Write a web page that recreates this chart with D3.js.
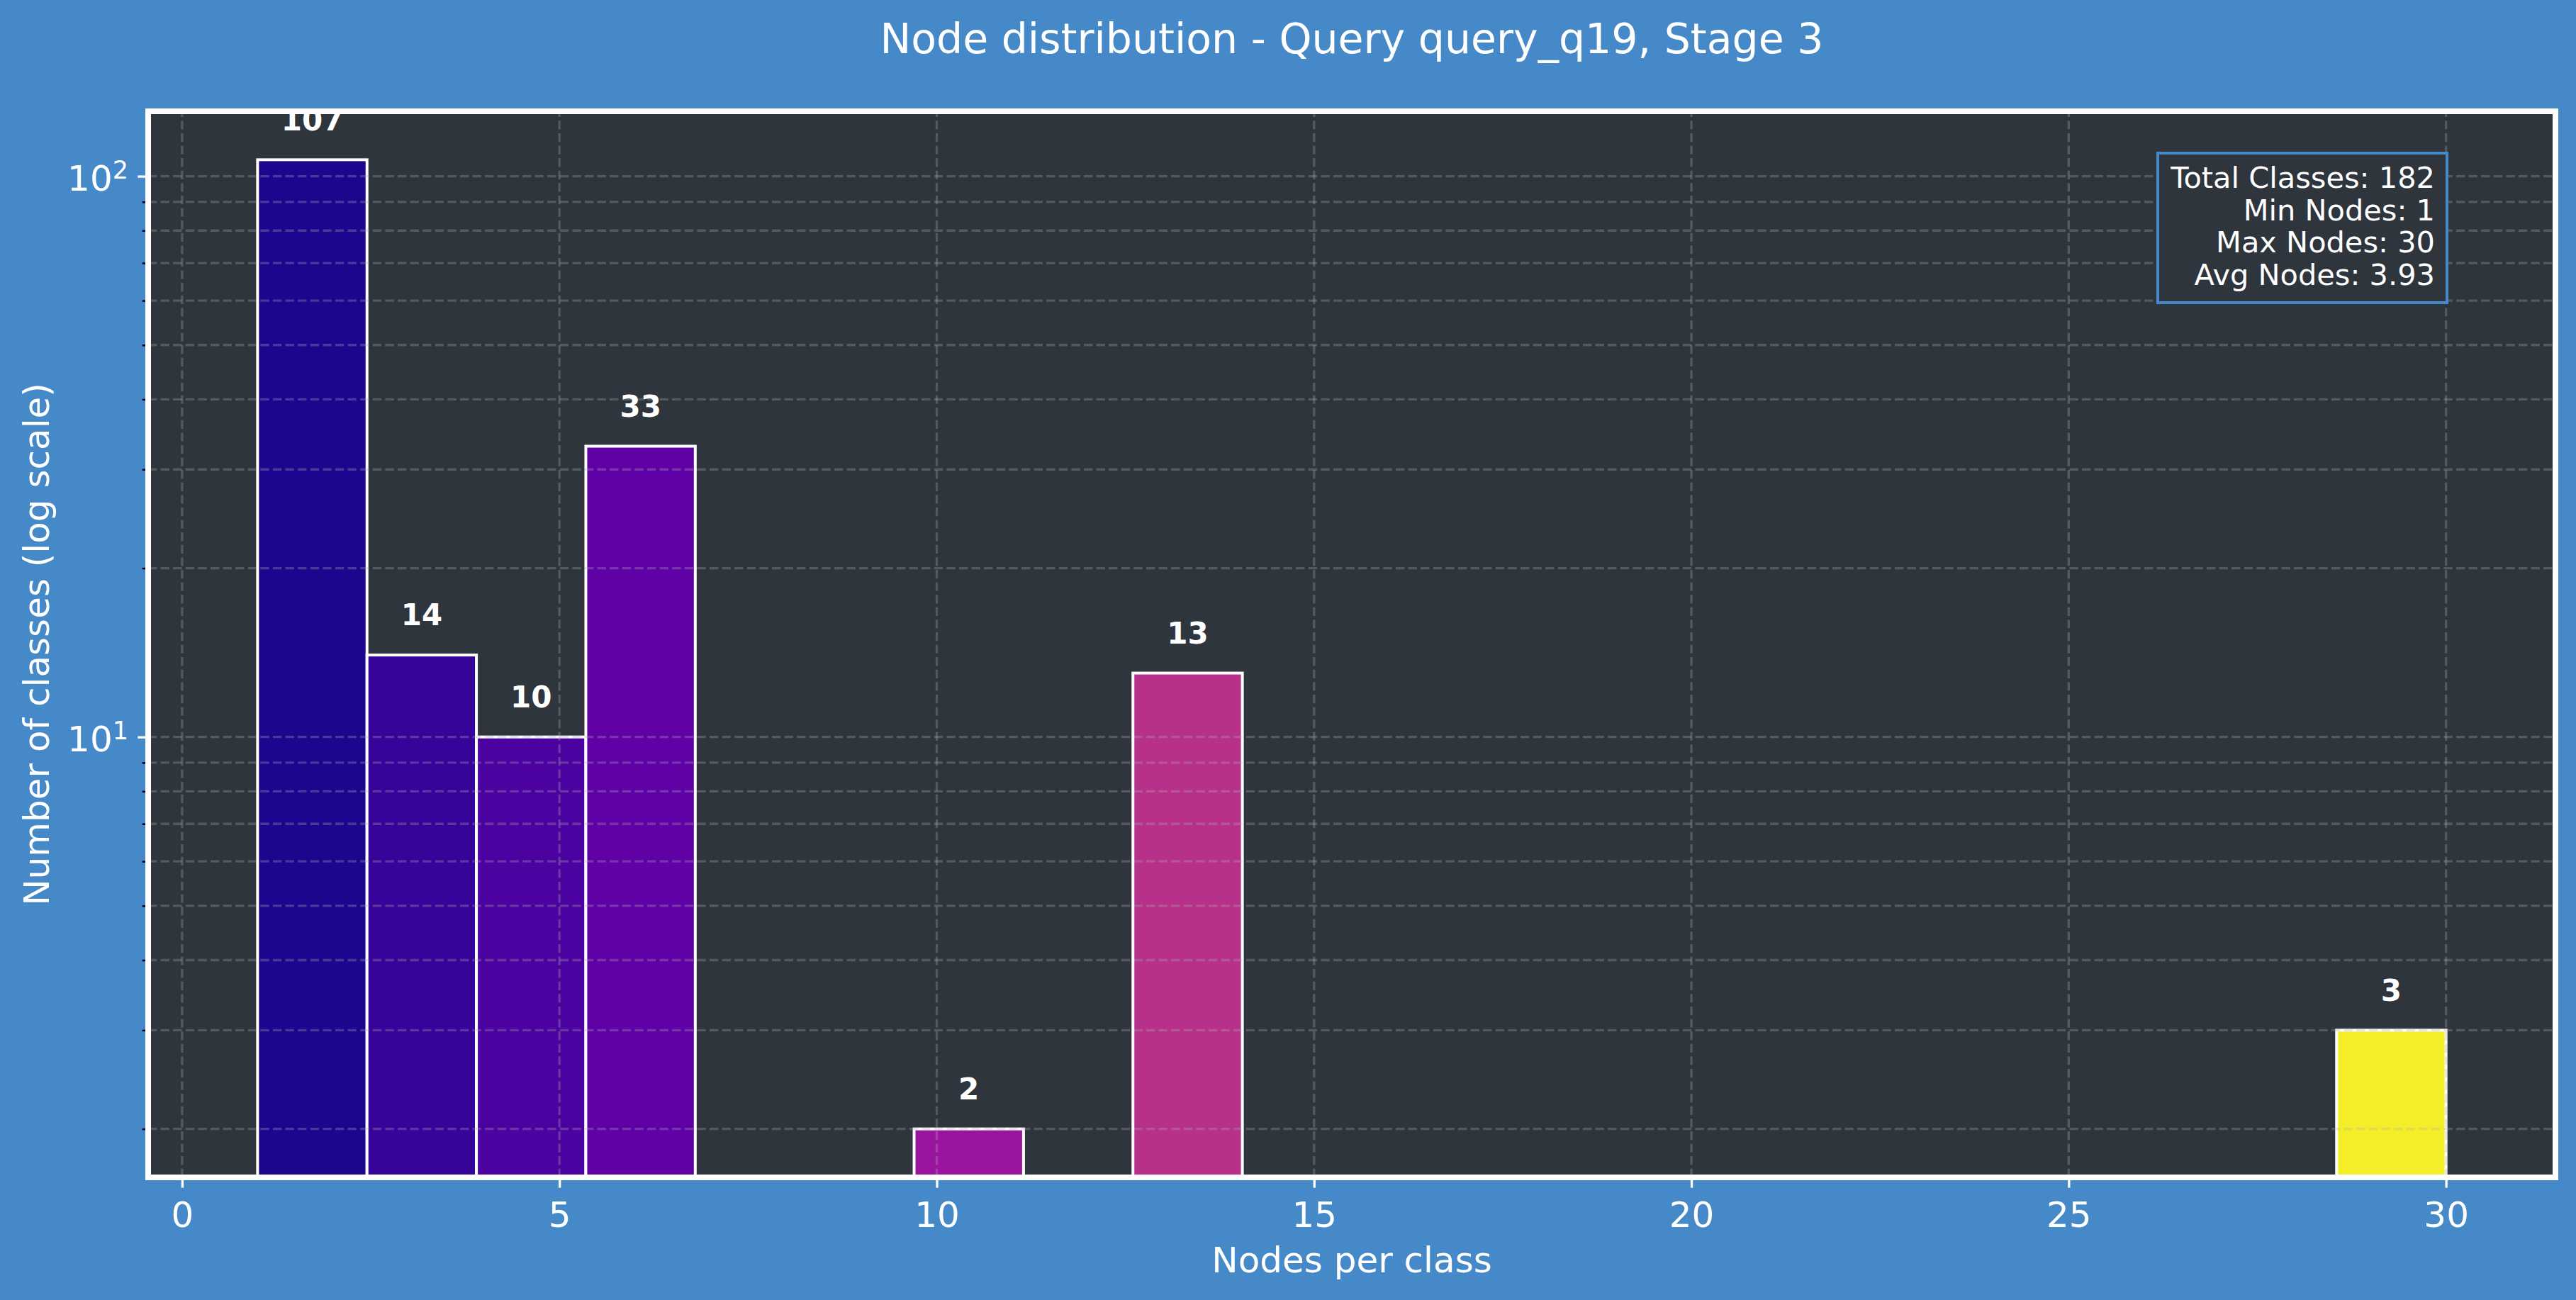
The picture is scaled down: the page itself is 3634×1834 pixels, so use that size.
<!DOCTYPE html>
<html>
<head>
<meta charset="utf-8">
<script src="https://cdn.jsdelivr.net/npm/d3@7"></script>
<style>
  html, body { margin: 0; padding: 0; background: #4689c8; }
  svg { display: block; }
</style>
</head>
<body>
<svg id="chart"></svg>
<script>
// Histogram of nodes per class: 20 equal-width bins spanning nodeRange
const nodeRange = [1, 30];
const classCounts = [107, 14, 10, 33, 0, 0, 2, 0, 13, 0, 0, 0, 0, 0, 0, 0, 0, 0, 0, 3];
const xTicks = [0, 5, 10, 15, 20, 25, 30];
const yMajor = [10, 100];
const yMinor = [2, 3, 4, 5, 6, 7, 8, 9, 20, 30, 40, 50, 60, 70, 80, 90];
const statLines = ["Total Classes: 182", "Min Nodes: 1", "Max Nodes: 30", "Avg Nodes: 3.93"];
const titleText = "Node distribution - Query query_q19, Stage 3";
const xLabel = "Nodes per class";
const yLabel = "Number of classes (log scale)";

const W = 3634, H = 1834;
const ax = { left: 209, top: 157, right: 3605, bottom: 1661 };
const BG = "#4689c8", PANEL = "#2f353d", FONT = "DejaVu Sans, sans-serif";

const binW = (nodeRange[1] - nodeRange[0]) / classCounts.length;
const bins = classCounts.map((c, i) => ({
  x0: nodeRange[0] + i * binW,
  x1: nodeRange[0] + (i + 1) * binW,
  count: c
}));

// 5% autoscale margins, like matplotlib
const xPad = (nodeRange[1] - nodeRange[0]) * 0.05;
const x = d3.scaleLinear()
  .domain([nodeRange[0] - xPad, nodeRange[1] + xPad])
  .range([ax.left, ax.right]);

const nz = classCounts.filter(c => c > 0);
const lo = Math.log10(d3.min(nz)), hi = Math.log10(d3.max(nz));
const lPad = (hi - lo) * 0.05;
const y = d3.scaleLog()
  .domain([Math.pow(10, lo - lPad), Math.pow(10, hi + lPad)])
  .range([ax.bottom, ax.top]);

const color = d3.scaleSequential(d3.interpolatePlasma).domain(nodeRange);

const svg = d3.select("#chart")
  .attr("width", W).attr("height", H)
  .attr("font-family", FONT);

svg.append("rect").attr("width", W).attr("height", H).attr("fill", BG);

svg.append("clipPath").attr("id", "plot-clip")
  .append("rect")
  .attr("x", ax.left).attr("y", ax.top)
  .attr("width", ax.right - ax.left).attr("height", ax.bottom - ax.top);

// panel
svg.append("rect")
  .attr("x", ax.left).attr("y", ax.top)
  .attr("width", ax.right - ax.left).attr("height", ax.bottom - ax.top)
  .attr("fill", PANEL);

const plot = svg.append("g").attr("clip-path", "url(#plot-clip)");

// bars
plot.selectAll("rect.bar")
  .data(bins.filter(b => b.count > 0))
  .join("rect")
  .attr("class", "bar")
  .attr("x", d => x(d.x0))
  .attr("width", d => x(d.x1) - x(d.x0))
  .attr("y", d => y(d.count))
  .attr("height", d => ax.bottom + 10 - y(d.count))
  .attr("fill", d => color((d.x0 + d.x1) / 2))
  .attr("stroke", "#fff")
  .attr("stroke-width", 4);

// grid (drawn over the bars)
const grid = plot.append("g")
  .attr("stroke", "#b0b0b0").attr("stroke-opacity", 0.3)
  .attr("stroke-width", 3.3).attr("stroke-dasharray", "12.3,5.3");
grid.selectAll("line.h")
  .data(yMajor.concat(yMinor))
  .join("line").attr("class", "h")
  .attr("x1", ax.left).attr("x2", ax.right)
  .attr("y1", d => y(d)).attr("y2", d => y(d));
grid.selectAll("line.v")
  .data(xTicks)
  .join("line").attr("class", "v")
  .attr("x1", d => x(d)).attr("x2", d => x(d))
  .attr("y1", ax.bottom).attr("y2", ax.top);

// value labels above bars
plot.selectAll("text.val")
  .data(bins.filter(b => b.count > 0))
  .join("text")
  .attr("class", "val")
  .attr("x", d => x((d.x0 + d.x1) / 2))
  .attr("y", d => y(d.count * 1.1) - 9)
  .attr("text-anchor", "middle")
  .attr("font-size", 42).attr("font-weight", "bold")
  .attr("fill", "#fff")
  .text(d => d.count);

// stats box
const sb = svg.append("g");
sb.append("rect")
  .attr("x", 3044).attr("y", 216).attr("width", 408).attr("height", 211)
  .attr("fill", PANEL).attr("stroke", BG).attr("stroke-width", 4);
sb.selectAll("text")
  .data(statLines)
  .join("text")
  .attr("x", 3435)
  .attr("y", (d, i) => 265 + i * 45.7)
  .attr("text-anchor", "end")
  .attr("font-size", 41.5)
  .attr("fill", "#fff")
  .text(d => d);

// x axis
const gx = svg.append("g")
  .attr("transform", `translate(0,${ax.bottom})`)
  .call(d3.axisBottom(x).tickValues(xTicks).tickSize(14.6).tickPadding(20).tickFormat(d3.format("d")));
gx.attr("font-family", FONT).attr("font-size", 50);
gx.select(".domain").remove();
gx.selectAll(".tick line").attr("stroke", "#fff").attr("stroke-width", 3.3);
gx.selectAll(".tick text").attr("fill", "#fff");

// y axis: minor ticks (black) and major ticks (white)
const gyMinor = svg.append("g")
  .attr("transform", `translate(${ax.left},0)`)
  .call(d3.axisLeft(y).tickValues(yMinor).tickSize(8.3).tickFormat(""));
gyMinor.select(".domain").remove();
gyMinor.selectAll(".tick line").attr("stroke", "#000").attr("stroke-width", 2.5);

const gy = svg.append("g")
  .attr("transform", `translate(${ax.left},0)`)
  .call(d3.axisLeft(y).tickValues(yMajor).tickSize(14.6).tickFormat(""));
gy.select(".domain").remove();
gy.selectAll(".tick line").attr("stroke", "#fff").attr("stroke-width", 3.3);

const yLab = svg.append("g").attr("fill", "#fff");
yMajor.forEach(v => {
  const t = yLab.append("text")
    .attr("x", 181).attr("y", y(v) + 20)
    .attr("text-anchor", "end").attr("font-size", 50);
  t.append("tspan").text("10");
  t.append("tspan").attr("font-size", 35).attr("dy", -17).text(Math.round(Math.log10(v)));
});

// spines on top
svg.append("rect")
  .attr("x", ax.left).attr("y", ax.top)
  .attr("width", ax.right - ax.left).attr("height", ax.bottom - ax.top)
  .attr("fill", "none").attr("stroke", "#fff").attr("stroke-width", 8);

// titles
svg.append("text")
  .attr("x", (ax.left + ax.right) / 2).attr("y", 75)
  .attr("text-anchor", "middle").attr("font-size", 58.5).attr("fill", "#fff")
  .text(titleText);

svg.append("text")
  .attr("x", (ax.left + ax.right) / 2).attr("y", 1795)
  .attr("text-anchor", "middle").attr("font-size", 50).attr("fill", "#fff")
  .text(xLabel);

svg.append("text")
  .attr("transform", `translate(69,${(ax.top + ax.bottom) / 2}) rotate(-90)`)
  .attr("text-anchor", "middle").attr("font-size", 50).attr("fill", "#fff")
  .text(yLabel);
</script>
</body>
</html>
